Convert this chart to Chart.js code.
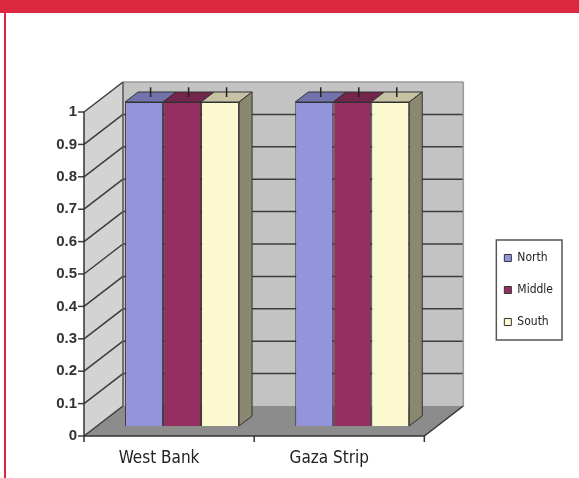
<!DOCTYPE html>
<html lang="en">
<head>
  <meta charset="UTF-8" />
  <title>Regions chart</title>
  <script src="https://cdn.jsdelivr.net/npm/chart.js"></script>
  <style>
    html, body { margin: 0; padding: 0; background: #fff; }
    #wrap { position: absolute; left: 0; top: 0; width: 579px; height: 478px; }
    #topbar { position: absolute; left: 0; top: 0; width: 579px; height: 13px; background: #db2740; }
    #sideline { position: absolute; left: 4px; top: 13px; width: 2px; height: 465px; background: #db2740; }
  </style>
</head>
<body>
  <div id="wrap"><canvas id="chart"></canvas></div>
  <div id="topbar"></div>
  <div id="sideline"></div>

  <script>
    const categories = ['West Bank', 'Gaza Strip'];
    const northValues = [1, 1];
    const middleValues = [1, 1];
    const southValues = [1, 1];
    const errorValues = [0.03, 0.03];
    const yTickValues = [0, 0.1, 0.2, 0.3, 0.4, 0.5, 0.6, 0.7, 0.8, 0.9, 1];

    const narrow = '"Liberation Sans Narrow", "DejaVu Sans Condensed", sans-serif';
    const DX = 13, DY = -10; // one step of depth

    function shade(hex, f) {
      const n = parseInt(hex.slice(1), 16);
      const c = [(n >> 16) & 255, (n >> 8) & 255, n & 255].map(v => Math.round(v * f));
      return `rgb(${c[0]},${c[1]},${c[2]})`;
    }

    function poly(ctx, pts, fill, stroke) {
      ctx.beginPath();
      pts.forEach((p, i) => i ? ctx.lineTo(p[0], p[1]) : ctx.moveTo(p[0], p[1]));
      ctx.closePath();
      if (fill) { ctx.fillStyle = fill; ctx.fill(); }
      if (stroke) { ctx.strokeStyle = stroke; ctx.stroke(); }
    }

    function line(ctx, x1, y1, x2, y2) {
      ctx.beginPath();
      ctx.moveTo(x1, y1);
      ctx.lineTo(x2, y2);
      ctx.stroke();
    }

    // walls, floor and grid behind the bars, 3d faces on top of them
    const depthPlugin = {
      id: 'depth',
      beforeDatasetsDraw(chart) {
        const {ctx, chartArea: a, scales: {y}} = chart;
        const y0 = y.getPixelForValue(0), y1 = y.getPixelForValue(1);
        const L = a.left, R = a.right;
        ctx.save();
        ctx.fillStyle = '#c3c3c3';
        ctx.fillRect(L + 2 * DX, y1 + 2 * DY, R - L, y0 - y1);
        poly(ctx, [[L - DX, y1 - DY], [L + 2 * DX, y1 + 2 * DY], [L + 2 * DX, y0 + 2 * DY], [L - DX, y0 - DY]], '#d3d3d3');
        poly(ctx, [[L - DX, y0 - DY], [R - DX, y0 - DY], [R + 2 * DX, y0 + 2 * DY], [L + 2 * DX, y0 + 2 * DY]], '#8c8c8c');

        ctx.strokeStyle = '#3c3c3c';
        ctx.lineWidth = 1.5;
        y.ticks.forEach(t => {
          const py = y.getPixelForValue(t.value);
          line(ctx, L - DX, py - DY, L + 2 * DX, py + 2 * DY);
          if (t.value > 0 && t.value < 1) line(ctx, L + 2 * DX, py + 2 * DY, R + 2 * DX, py + 2 * DY);
          line(ctx, L - DX - 6, py - DY, L - DX, py - DY);
        });
        ctx.strokeStyle = '#9a9a9a';
        line(ctx, L + 2 * DX, y1 + 2 * DY, R + 2 * DX, y1 + 2 * DY);
        line(ctx, R + 2 * DX, y1 + 2 * DY, R + 2 * DX, y0 + 2 * DY);
        ctx.strokeStyle = '#555';
        line(ctx, L + 2 * DX, y1 + 2 * DY, L + 2 * DX, y0 + 2 * DY);

        // front axis and floor edge
        ctx.strokeStyle = '#333';
        line(ctx, L - DX, y1 - DY, L - DX, y0 - DY);
        line(ctx, L - DX, y0 - DY, R - DX, y0 - DY);
        line(ctx, R - DX, y0 - DY, R + 2 * DX, y0 + 2 * DY);
        const n = categories.length;
        for (let i = 0; i <= n; i++) {
          const px = L + i * (R - L) / n - DX;
          line(ctx, px, y0 - DY, px, y0 - DY + 6);
        }
        ctx.restore();
      },
      afterDatasetsDraw(chart) {
        const {ctx, scales: {y}} = chart;
        const last = chart.data.datasets.length - 1;
        ctx.save();
        ctx.lineWidth = 1;
        chart.data.datasets.forEach((ds, di) => {
          chart.getDatasetMeta(di).data.forEach((bar, i) => {
            const p = bar.getProps(['x', 'y', 'width', 'base'], true);
            const l = p.x - p.width / 2, r = p.x + p.width / 2;
            poly(ctx, [[l, p.y], [r, p.y], [r + DX, p.y + DY], [l + DX, p.y + DY]], shade(ds.backgroundColor, 0.78), '#333');
            if (di === last) {
              poly(ctx, [[r, p.y], [r + DX, p.y + DY], [r + DX, p.base + DY], [r, p.base]], shade(ds.backgroundColor, 0.55), '#333');
            }
          });
        });
        // error whiskers from the middle of each top face
        ctx.strokeStyle = '#222';
        ctx.lineWidth = 1.5;
        chart.data.datasets.forEach((ds, di) => {
          chart.getDatasetMeta(di).data.forEach((bar, i) => {
            const v = ds.data[i];
            const cx = bar.x + DX / 2;
            line(ctx, cx, y.getPixelForValue(v) + DY / 2, cx, y.getPixelForValue(v + errorValues[i]) + DY / 2);
          });
        });
        ctx.restore();
      },
      afterDraw(chart) {
        const boxes = chart.legend.legendHitBoxes;
        if (!boxes || !boxes.length) return;
        const l = Math.min(...boxes.map(b => b.left));
        const t = Math.min(...boxes.map(b => b.top));
        const r = Math.max(...boxes.map(b => b.left + b.width));
        const b = Math.max(...boxes.map(b => b.top + b.height));
        const ctx = chart.ctx;
        ctx.save();
        ctx.strokeStyle = '#555';
        ctx.lineWidth = 1.5;
        ctx.strokeRect(l - 8, t - 12, r - l + 17, b - t + 24);
        ctx.restore();
      }
    };

    const barStyle = { borderColor: '#333', borderWidth: 1, categoryPercentage: 0.67, barPercentage: 1 };

    new Chart(document.getElementById('chart'), {
      type: 'bar',
      data: {
        labels: categories,
        datasets: [
          { label: 'North', data: northValues, backgroundColor: '#9494dc', ...barStyle },
          { label: 'Middle', data: middleValues, backgroundColor: '#952f62', ...barStyle },
          { label: 'South', data: southValues, backgroundColor: '#fcf8d0', ...barStyle }
        ]
      },
      options: {
        responsive: true,
        maintainAspectRatio: false,
        animation: false,
        layout: { padding: { top: 102, right: 16, bottom: 0, left: 0 } },
        plugins: {
          legend: {
            position: 'right',
            align: 'center',
            labels: { boxWidth: 7, boxHeight: 7, padding: 20, color: '#222', font: { family: narrow, size: 12 } }
          },
          tooltip: { enabled: false }
        },
        scales: {
          x: {
            grid: { display: false, drawTicks: false },
            border: { display: false },
            ticks: { padding: 22, labelOffset: -23, color: '#222', font: { family: narrow, size: 17 } },
            afterFit: s => { s.height = 52; }
          },
          y: {
            min: 0,
            max: 1,
            grid: { display: false, drawTicks: false },
            border: { display: false },
            afterBuildTicks: s => { s.ticks = yTickValues.map(v => ({ value: v })); },
            ticks: {
              padding: 20,
              labelOffset: 10,
              color: '#333',
              font: { family: '"Liberation Sans", Arial, sans-serif', size: 15, weight: 'bold' },
              callback: v => String(+v.toFixed(1))
            },
            afterFit: s => { s.width = 97; }
          },
          gap: {
            type: 'linear',
            position: 'right',
            grid: { display: false, drawTicks: false },
            border: { display: false },
            ticks: { display: false },
            afterFit: s => { s.width = 47; }
          }
        }
      },
      plugins: [depthPlugin]
    });
  </script>
</body>
</html>
